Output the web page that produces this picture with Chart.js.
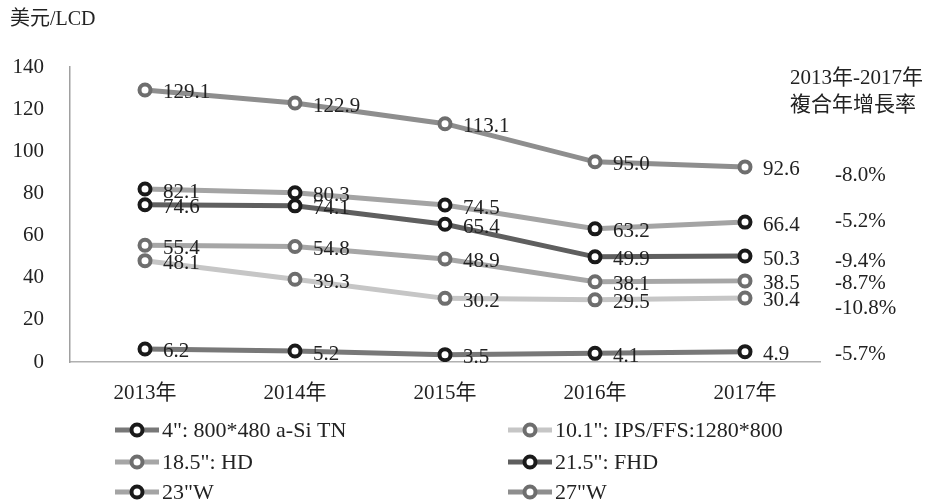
<!DOCTYPE html>
<html>
<head>
<meta charset="utf-8">
<script src="https://cdn.jsdelivr.net/npm/chart.js@4"></script>
<style>
html,body{margin:0;padding:0;background:#fff;}
#wrap{width:931px;height:504px;position:relative;}
</style>
</head>
<body>
<div id="wrap"><canvas id="c" width="931" height="504"></canvas></div>
<script>
const FONT = '"Liberation Serif", "Noto Sans CJK TC", serif';

// === Data ===
const years = ["2013年","2014年","2015年","2016年","2017年"];
const seriesNames = ['4": 800*480 a-Si TN','10.1": IPS/FFS:1280*800','18.5": HD','21.5": FHD','23"W','27"W'];
const s4   = [6.2, 5.2, 3.5, 4.1, 4.9];
const s10  = [48.1, 39.3, 30.2, 29.5, 30.4];
const s18  = [55.4, 54.8, 48.9, 38.1, 38.5];
const s21  = [74.6, 74.1, 65.4, 49.9, 50.3];
const s23  = [82.1, 80.3, 74.5, 63.2, 66.4];
const s27  = [129.1, 122.9, 113.1, 95.0, 92.6];
const cagr = ["-5.7%","-10.8%","-8.7%","-9.4%","-5.2%","-8.0%"];
const yTicks = [0,20,40,60,80,100,120,140];

// styles per series (line colour, marker colour)
const lineCol   = ["#787878","#c6c6c6","#a6a6a6","#5f5f5f","#a4a4a4","#8e8e8e"];
const markerCol = ["#1a1a1a","#6e6e6e","#6e6e6e","#1a1a1a","#1a1a1a","#6e6e6e"];
// small vertical nudges for the CAGR text so it doesn't collide
const cagrDy = [0, 8, 0, 2, -4, 6];

const allData = [s4,s10,s18,s21,s23,s27];
const datasets = allData.map((d,i)=>({
  label: seriesNames[i], data: d,
  borderColor: lineCol[i], borderWidth: 5,
  pointRadius: 5.5, pointBorderWidth: 4,
  pointBackgroundColor: "#fff", pointBorderColor: markerCol[i],
  tension: 0
}));

// === Labels / legend plugin ===
const extras = {
  id: "extras",
  afterDatasetsDraw(chart){
    const ctx = chart.ctx;
    ctx.save();
    ctx.fillStyle = "#222";
    ctx.font = "21px " + FONT;
    ctx.textBaseline = "middle";
    ctx.textAlign = "left";
    chart.data.datasets.forEach((ds,i)=>{
      const meta = chart.getDatasetMeta(i);
      meta.data.forEach((pt,j)=>{
        ctx.fillText(ds.data[j].toFixed(1), pt.x + 18, pt.y + 3);
      });
      const last = meta.data[meta.data.length-1];
      ctx.fillText(cagr[i], 835, last.y + 3 + cagrDy[i]);
    });

    // axis title and cagr header
    ctx.font = "20px " + FONT;
    ctx.fillText("美元/LCD", 10, 20);
    ctx.font = "21px " + FONT;
    ctx.fillText("2013年-2017年", 790, 78);
    ctx.fillText("複合年增長率", 790, 105);

    // legend, 2 columns
    const colX = [115, 508], rowY = [430, 462, 492];
    ctx.font = "22px " + FONT;
    chart.data.datasets.forEach((ds,i)=>{
      const x = colX[i%2], y = rowY[Math.floor(i/2)];
      ctx.strokeStyle = ds.borderColor; ctx.lineWidth = 5;
      ctx.beginPath(); ctx.moveTo(x, y); ctx.lineTo(x+44, y); ctx.stroke();
      ctx.beginPath(); ctx.arc(x+22, y, 5.5, 0, Math.PI*2);
      ctx.fillStyle = "#fff"; ctx.fill();
      ctx.strokeStyle = ds.pointBorderColor; ctx.lineWidth = 4; ctx.stroke();
      ctx.fillStyle = "#222";
      ctx.fillText(ds.label, x+47, y+1);
    });
    ctx.restore();
  }
};

new Chart(document.getElementById("c"), {
  type: "line",
  data: { labels: years, datasets },
  options: {
    responsive: false, animation: false,
    layout: { padding: { top: 67, right: 111, bottom: 102, left: 0 } },
    plugins: { legend: { display: false }, tooltip: { enabled: false } },
    scales: {
      x: {
        offset: true,
        grid: { display: false },
        border: { display: true, color: "#b0b0b0", width: 1.5 },
        ticks: { color: "#222", font: { family: FONT, size: 21 }, padding: 11 },
        afterFit: s => { s.height = 40; }
      },
      y: {
        min: 0, max: 140,
        afterBuildTicks: s => { s.ticks = yTicks.map(v=>({value:v})); },
        grid: { display: false },
        border: { display: true, color: "#a0a0a0", width: 1.5 },
        ticks: { color: "#222", font: { family: FONT, size: 21 }, padding: 18 },
        afterFit: s => { s.width = 70; }
      }
    }
  },
  plugins: [extras]
});
</script>
</body>
</html>
